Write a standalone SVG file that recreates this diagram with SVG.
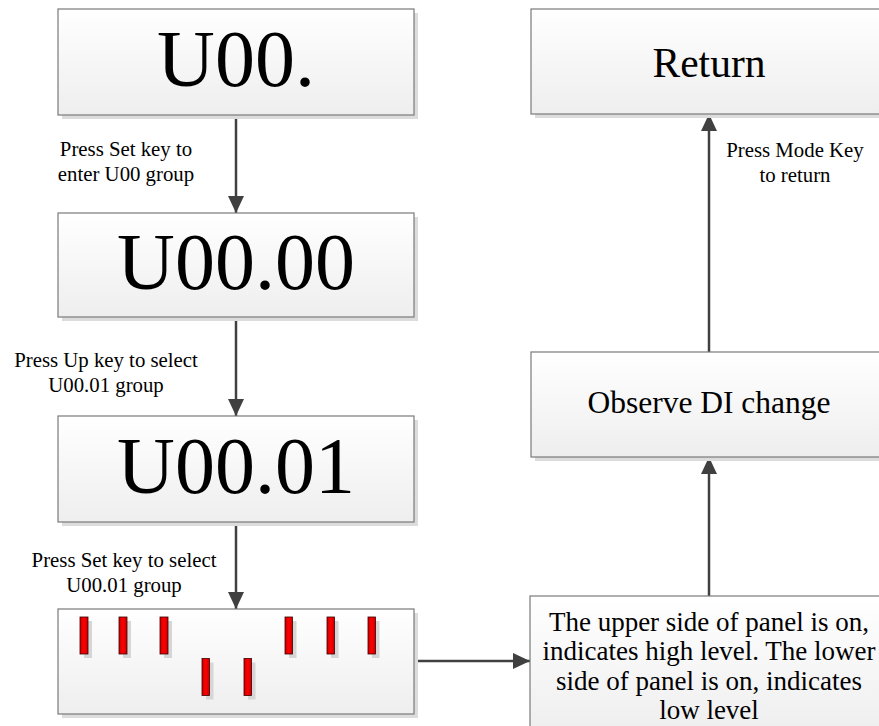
<svg xmlns="http://www.w3.org/2000/svg" width="879" height="726" viewBox="0 0 879 726">
  <style>
    text { font-family: "Liberation Serif", "Times New Roman", serif; fill: #000; }
    .box { fill: url(#boxFill); stroke: #7a7a7a; stroke-width: 1.2; }
    .shadow { fill: #dcdcdc; }
    .big { font-size: 80px; text-anchor: middle; }
    .mid { font-size: 41.5px; text-anchor: middle; }
    .obs { font-size: 31.5px; text-anchor: middle; }
    .note { font-size: 27px; text-anchor: middle; }
    .lbl { font-size: 20.8px; text-anchor: middle; }
    .wire { stroke: #404040; stroke-width: 2.5; fill: none; marker-end: url(#head); }
    .bar { fill: url(#barFill); stroke: #3a0000; stroke-width: 0.8; }
    .barShadow { fill: #d6d6d6; }
  </style>
  <defs>
    <linearGradient id="boxFill" x1="0" y1="0" x2="0" y2="1">
      <stop offset="0" stop-color="#ffffff"/>
      <stop offset="1" stop-color="#eeeeee"/>
    </linearGradient>
    <linearGradient id="barFill" x1="0" y1="0" x2="1" y2="0">
      <stop offset="0" stop-color="#c80000"/>
      <stop offset="0.5" stop-color="#ff0000"/>
      <stop offset="1" stop-color="#c80000"/>
    </linearGradient>
    <marker id="head" viewBox="0 0 17 16" refX="17" refY="8" markerWidth="17" markerHeight="16" markerUnits="userSpaceOnUse" orient="auto">
      <path d="M0,0 L17,8 L0,16 Z" fill="#404040"/>
    </marker>
  </defs>

  <!-- connectors -->
  <g id="connectors">
    <line class="wire" x1="236" y1="115" x2="236" y2="213"/>
    <line class="wire" x1="236" y1="317" x2="236" y2="416"/>
    <line class="wire" x1="236" y1="522" x2="236" y2="609"/>
    <line class="wire" x1="414" y1="661" x2="530" y2="661"/>
    <line class="wire" x1="709" y1="596" x2="709" y2="457"/>
    <line class="wire" x1="709" y1="352" x2="709" y2="114"/>
    <text class="lbl" x="126" y="156">Press Set key to</text>
    <text class="lbl" x="126" y="181">enter U00 group</text>
    <text class="lbl" x="106" y="366.5">Press Up key to select</text>
    <text class="lbl" x="106" y="391.5">U00.01 group</text>
    <text class="lbl" x="124" y="567">Press Set key to select</text>
    <text class="lbl" x="124" y="592">U00.01 group</text>
    <text class="lbl" x="795" y="157">Press Mode Key</text>
    <text class="lbl" x="795" y="182">to return</text>
  </g>

  <!-- left column -->
  <g id="u00">
    <rect class="shadow" x="62" y="13" width="356" height="106"/>
    <rect class="box" x="58" y="9" width="356" height="106"/>
    <text class="big" x="236" y="86">U00.</text>
  </g>
  <g id="u00-00">
    <rect class="shadow" x="62" y="217" width="356" height="104"/>
    <rect class="box" x="58" y="213" width="356" height="104"/>
    <text class="big" x="236" y="289">U00.00</text>
  </g>
  <g id="u00-01">
    <rect class="shadow" x="62" y="420" width="356" height="106"/>
    <rect class="box" x="58" y="416" width="356" height="106"/>
    <text class="big" x="236" y="493">U00.01</text>
  </g>
  <g id="panel">
    <rect class="shadow" x="62" y="613" width="356" height="105"/>
    <rect class="box" x="58" y="609" width="356" height="105"/>
    <!-- upper segments -->
    <rect class="barShadow" x="84" y="621" width="8" height="37"/>
    <rect class="bar" x="80" y="617" width="8" height="37"/>
    <rect class="barShadow" x="123" y="621" width="8" height="37"/>
    <rect class="bar" x="119" y="617" width="8" height="37"/>
    <rect class="barShadow" x="164" y="621" width="8" height="37"/>
    <rect class="bar" x="160" y="617" width="8" height="37"/>
    <rect class="barShadow" x="289" y="621" width="7.5" height="37"/>
    <rect class="bar" x="285" y="617" width="7.5" height="37"/>
    <rect class="barShadow" x="331" y="621" width="7.5" height="37"/>
    <rect class="bar" x="327" y="617" width="7.5" height="37"/>
    <rect class="barShadow" x="372" y="621" width="7.5" height="37"/>
    <rect class="bar" x="368" y="617" width="7.5" height="37"/>
    <!-- lower segments -->
    <rect class="barShadow" x="206" y="662.5" width="7.5" height="37"/>
    <rect class="bar" x="202" y="658.5" width="7.5" height="37"/>
    <rect class="barShadow" x="248" y="662.5" width="7.5" height="37"/>
    <rect class="bar" x="244" y="658.5" width="7.5" height="37"/>
  </g>

  <!-- right column -->
  <g id="return">
    <rect class="shadow" x="535" y="13" width="356" height="105"/>
    <rect class="box" x="531" y="9" width="356" height="105"/>
    <text class="mid" x="709" y="77">Return</text>
  </g>
  <g id="observe">
    <rect class="shadow" x="535" y="356" width="356" height="105"/>
    <rect class="box" x="531" y="352" width="356" height="105"/>
    <text class="obs" x="709" y="413">Observe DI change</text>
  </g>
  <g id="level-note">
    <rect class="shadow" x="534" y="600" width="356" height="140"/>
    <rect class="box" x="530" y="596" width="356" height="140"/>
    <text class="note" x="709" y="630.5">The upper side of panel is on,</text>
    <text class="note" x="709" y="660">indicates high level. The lower</text>
    <text class="note" x="709" y="689.5">side of panel is on, indicates</text>
    <text class="note" x="709" y="718.5">low level</text>
  </g>
</svg>
